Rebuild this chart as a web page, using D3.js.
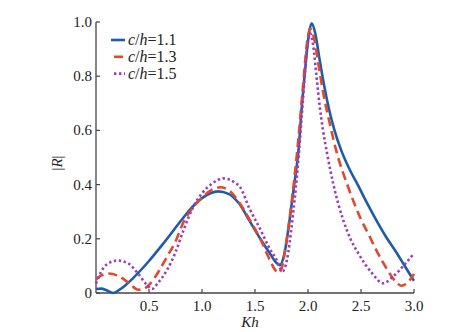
<!DOCTYPE html>
<html><head><meta charset="utf-8">
<script src="https://cdn.jsdelivr.net/npm/d3@7"></script>
<style>body{margin:0;background:#fff}svg{display:block}
svg text{font-family:"Liberation Serif","DejaVu Serif","Times New Roman",Times,serif;}
</style>
</head><body><svg id="c" width="460" height="332"></svg>
<script>
const seriesNames = ["1.1", "1.3", "1.5"];
const xTicks = [0.5, 1.0, 1.5, 2.0, 2.5, 3.0];
const yTicks = [0, 0.2, 0.4, 0.6, 0.8, 1.0];

const kh11 = [0.00,0.05,0.10,0.16,0.25,0.35,0.50,0.65,0.82,0.92,1.00,1.08,1.15,1.25,1.35,1.45,1.55,1.65,1.70,1.735,1.78,1.83,1.87,1.91,1.94,1.98,2.01,2.035,2.07,2.11,2.15,2.20,2.25,2.31,2.40,2.475,2.55,2.64,2.74,2.84,2.92,3.00];
const r11  = [0.015,0.016,0.010,0.000,0.020,0.055,0.118,0.190,0.276,0.322,0.350,0.368,0.375,0.366,0.330,0.265,0.200,0.140,0.112,0.103,0.150,0.280,0.400,0.525,0.680,0.853,0.960,0.995,0.955,0.860,0.770,0.675,0.600,0.530,0.450,0.395,0.337,0.272,0.205,0.146,0.095,0.045];

const kh13 = [0.00,0.05,0.12,0.20,0.30,0.40,0.45,0.50,0.60,0.67,0.75,0.82,0.92,1.00,1.08,1.17,1.25,1.35,1.45,1.55,1.63,1.69,1.72,1.75,1.80,1.85,1.90,1.95,1.99,2.02,2.06,2.10,2.15,2.20,2.27,2.375,2.50,2.58,2.66,2.75,2.82,2.88,2.93,3.00];
const r13  = [0.050,0.065,0.072,0.065,0.040,0.012,0.015,0.030,0.085,0.134,0.190,0.257,0.318,0.352,0.378,0.390,0.380,0.335,0.270,0.200,0.130,0.085,0.073,0.090,0.200,0.350,0.530,0.750,0.920,0.975,0.935,0.840,0.725,0.635,0.520,0.395,0.272,0.210,0.146,0.085,0.045,0.027,0.035,0.070];

const kh15 = [0.00,0.05,0.10,0.20,0.30,0.40,0.48,0.53,0.58,0.67,0.75,0.82,0.92,1.00,1.10,1.20,1.30,1.36,1.45,1.55,1.63,1.70,1.76,1.80,1.85,1.90,1.95,1.99,2.02,2.05,2.08,2.11,2.14,2.18,2.24,2.33,2.40,2.475,2.60,2.71,2.80,2.90,3.00];
const r15  = [0.035,0.080,0.105,0.120,0.110,0.070,0.030,0.015,0.035,0.085,0.150,0.226,0.320,0.368,0.405,0.423,0.410,0.390,0.310,0.235,0.170,0.125,0.080,0.120,0.260,0.450,0.700,0.900,0.958,0.910,0.800,0.690,0.605,0.515,0.400,0.272,0.200,0.146,0.075,0.036,0.060,0.100,0.146];

const colors = ["#1f5ca8", "#e2482b", "#9a3db8"];
const dashes = [null, "9,5", "2.4,2.6"];

const svg = d3.select("#c");
const x = d3.scaleLinear().domain([0, 3]).range([96, 414]);
const y = d3.scaleLinear().domain([0, 1]).range([293, 22]);
const axisColor = "#444";

svg.append("line").attr("x1", 96).attr("x2", 96).attr("y1", y(1)).attr("y2", y(0)).attr("stroke", axisColor).attr("stroke-width", 1.3);
svg.append("line").attr("x1", 96).attr("x2", x(3)).attr("y1", y(0)).attr("y2", y(0)).attr("stroke", axisColor).attr("stroke-width", 1.3);

yTicks.forEach(v => {
  svg.append("line").attr("x1", 96).attr("x2", 100).attr("y1", y(v)).attr("y2", y(v)).attr("stroke", axisColor).attr("stroke-width", 1.2);
  svg.append("text").attr("x", 92).attr("y", y(v) + 5).attr("text-anchor", "end")
    .attr("font-size", 15).attr("fill", "#222")
    .text(v === 0 ? "0" : v.toFixed(1));
});
xTicks.forEach(v => {
  svg.append("line").attr("x1", x(v)).attr("x2", x(v)).attr("y1", y(0)).attr("y2", y(0) - 4).attr("stroke", axisColor).attr("stroke-width", 1.2);
  svg.append("text").attr("x", x(v)).attr("y", 311).attr("text-anchor", "middle")
    .attr("font-size", 15).attr("fill", "#222")
    .text(v.toFixed(1));
});

const yl = svg.append("text").attr("transform", "translate(62,163) rotate(-90)").attr("text-anchor", "middle")
  .attr("font-size", 15).attr("fill", "#222");
yl.append("tspan").text("|");
yl.append("tspan").attr("font-style", "italic").text("R");
yl.append("tspan").text("|");
svg.append("text").attr("x", 250).attr("y", 327).attr("text-anchor", "middle")
  .attr("font-size", 15).attr("font-style", "italic").attr("fill", "#222").text("Kh");

const data = [d3.zip(kh11, r11), d3.zip(kh13, r13), d3.zip(kh15, r15)];
const line = d3.line().x(d => x(d[0])).y(d => y(d[1])).curve(d3.curveMonotoneX);
data.forEach((d, i) => {
  svg.append("path").attr("d", line(d)).attr("fill", "none")
    .attr("stroke", colors[i]).attr("stroke-width", 2.6)
    .attr("stroke-dasharray", dashes[i]);
});

seriesNames.forEach((s, i) => {
  const ly = 40 + i * 16.8;
  svg.append("line").attr("x1", i === 0 ? 111 : 114).attr("x2", 125).attr("y1", ly).attr("y2", ly)
    .attr("stroke", colors[i]).attr("stroke-width", 2.6).attr("stroke-dasharray", dashes[i]);
  const t = svg.append("text").attr("x", 128).attr("y", ly + 5)
    .attr("font-size", 16).attr("fill", "#222");
  t.append("tspan").attr("font-style", "italic").text("c");
  t.append("tspan").text("/");
  t.append("tspan").attr("font-style", "italic").text("h");
  t.append("tspan").text("=" + s);
});
</script></body></html>
